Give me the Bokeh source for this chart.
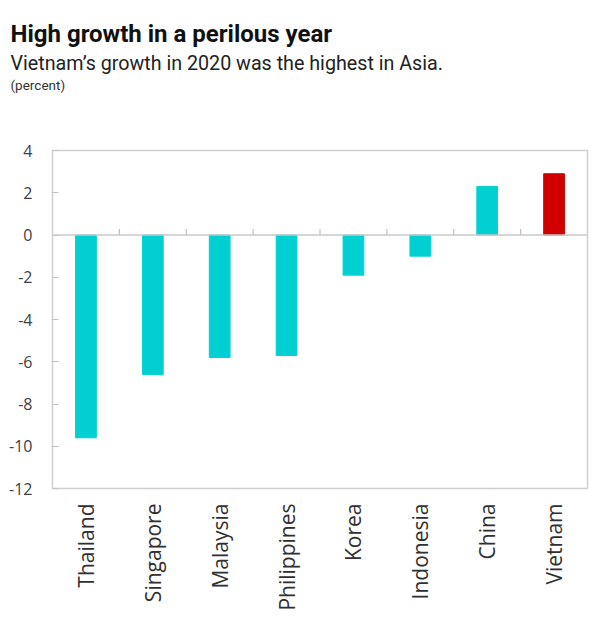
import math
from bokeh.plotting import figure
from bokeh.models import ColumnDataSource, Range1d, FactorRange, SingleIntervalTicker, Span, Title, PrintfTickFormatter
from bokeh.transform import dodge
from bokeh.embed import file_html
from bokeh.resources import INLINE

countries = ["Thailand", "Singapore", "Malaysia", "Philippines", "Korea", "Indonesia", "China", "Vietnam"]
growth = [-9.6, -6.6, -5.8, -5.7, -1.9, -1.0, 2.3, 2.9]
highlight = "Vietnam"
title_text = "High growth in a perilous year"
subtitle_text = "Vietnam\u2019s growth in 2020 was the highest in Asia."
unit_text = "(percent)"

CYAN = "#00D0D2"
RED = "#D00000"
colors = [RED if c == highlight else CYAN for c in countries]

src = ColumnDataSource(dict(country=countries, growth=growth, color=colors))
bound_src = ColumnDataSource(dict(country=countries[:-1], y0=[0] * (len(countries) - 1), y1=[0.28] * (len(countries) - 1)))

p = figure(
    width=612, height=638, title=None,
    x_range=FactorRange(*countries, range_padding=0),
    y_range=Range1d(-12, 4),
    output_backend="svg", toolbar_location=None,
    min_border_left=52, min_border_right=25, min_border_top=150, min_border_bottom=150,
)
p.background_fill_color = "white"
p.border_fill_color = "white"
p.outline_line_color = "#d0d0d0"
p.outline_line_width = 1.5
p.grid.visible = False

p.vbar(x="country", top="growth", bottom=0, width=0.31, color="color", source=src)

zero = Span(location=0, dimension="width", line_color="#c8c8c8", line_width=1.5)
p.add_layout(zero)
p.segment(x0=dodge("country", 0.5, range=p.x_range), x1=dodge("country", 0.5, range=p.x_range),
          y0="y0", y1="y1", line_color="#c0c0c0", line_width=1.2, source=bound_src)

# y axis
ya = p.yaxis[0]
ya.ticker = SingleIntervalTicker(interval=2)
ya.formatter = PrintfTickFormatter(format="%d")
ya.axis_line_color = None
ya.major_tick_in = 6
ya.major_tick_out = 0
ya.major_tick_line_color = "#c0c0c0"
ya.minor_tick_line_color = None
ya.major_label_standoff = 16
ya.major_label_text_font = "Open Sans"
ya.major_label_text_font_size = "16px"
ya.major_label_text_color = "#404040"

# x axis
xa = p.xaxis[0]
xa.axis_line_color = None
xa.major_tick_line_color = None
xa.major_label_orientation = math.pi / 2
xa.major_label_standoff = 9
xa.major_label_text_font = "Open Sans"
xa.major_label_text_font_size = "21px"
xa.major_label_text_color = "#303030"

# spacer between the unit line and the plot frame
p.add_layout(Title(text=" ", text_font_size="1px", standoff=55), "above")
p.add_layout(Title(text=unit_text, text_font="Roboto", text_font_size="13.5px",
                   text_font_style="normal", text_color="#333333", align="left", offset=-42,
                   standoff=0), "above")
p.add_layout(Title(text=subtitle_text, text_font="Roboto", text_font_size="19.7px",
                   text_font_style="normal", text_color="#222222", align="left", offset=-42,
                   standoff=0), "above")
p.add_layout(Title(text=title_text, text_font="Roboto", text_font_size="24px",
                   text_font_style="bold", text_color="#111111", align="left", offset=-42,
                   standoff=4), "above")

open("out.html", "w").write(file_html(p, INLINE))
